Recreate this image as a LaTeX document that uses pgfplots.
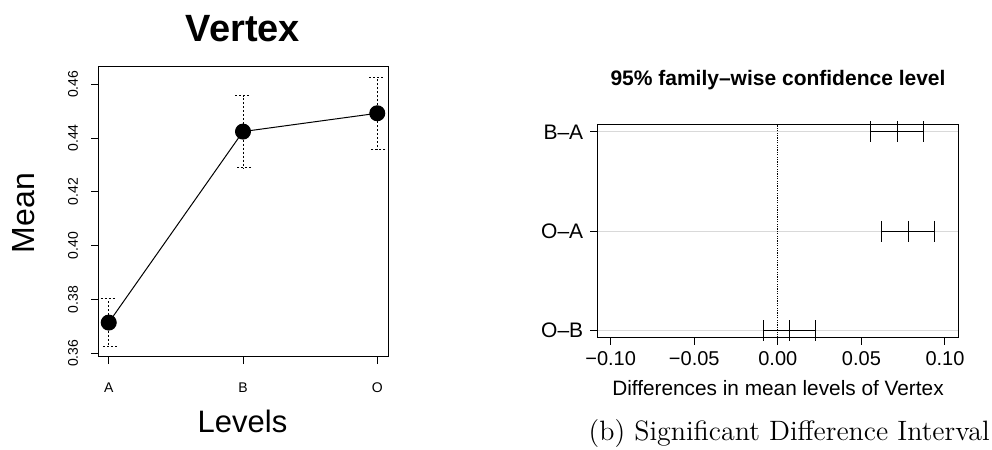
\documentclass[border=0pt]{standalone}
\usepackage{fontspec}
\usepackage{pgfplots}
\pgfplotsset{compat=1.18}
\newfontfamily\arial{Liberation Sans}
\newcommand{\fs}[1]{\fontsize{#1}{#1}\selectfont}
\begin{document}
\begin{tikzpicture}
\path[use as bounding box] (0,0) rectangle (496pt,225pt);
% ---------------- left panel ----------------
\begin{axis}[
  at={(49pt,46.5pt)}, anchor=south west,
  scale only axis, width=145pt, height=145pt,
  xmin=0.92, xmax=3.08, ymin=0.3586, ymax=0.4664,
  xtick={1,2,3}, xticklabels={A,B,O},
  ytick={0.36,0.38,0.40,0.42,0.44,0.46},
  yticklabels={0.36,0.38,0.40,0.42,0.44,0.46},
  tick pos=left, tick align=outside, major tick length=3.5pt,
  tick style={black, line width=0.5pt},
  axis line style={black, line width=0.5pt},
  tick label style={font=\arial\fs{7}},
  yticklabel style={rotate=90, anchor=south},
  xticklabel shift=6pt, yticklabel shift=3pt,
  /pgf/number format/assume math mode=true,
]
\addplot[black, line width=0.5pt, mark=*, mark size=3.75pt,
  mark options={solid, fill=black},
  error bars/.cd, y dir=both, y explicit,
  error bar style={black, line width=0.5pt, dash pattern=on 1pt off 1pt},
  error mark options={black, line width=0.5pt, rotate=90, mark size=4pt, dash pattern=on 1pt off 1pt}]
coordinates {
  (1,0.3714) +- (0,0.0088)
  (2,0.4424) +- (0,0.0134)
  (3,0.4492) +- (0,0.0134)
};
\end{axis}
\node[font=\arial\bfseries\fs{19}, anchor=base] at (121.5pt,204.2pt) {Vertex};
\node[font=\arial\fs{16}, anchor=base, rotate=90] at (17.5pt,118.5pt) {Mean};
\node[font=\arial\fs{15.5}, anchor=base] at (121.25pt,8.9pt) {Levels};
% ---------------- right panel ----------------
\begin{axis}[
  at={(298.65pt,56.15pt)}, anchor=south west,
  scale only axis, width=180.7pt, height=106.7pt,
  xmin=-0.108, xmax=0.1082, ymin=0.93, ymax=3.077,
  xtick={-0.1,-0.05,0,0.05,0.1},
  xticklabels={−0.10,−0.05,0.00,0.05,0.10},
  ytick={1,2,3}, yticklabels={O–B,O–A,B–A},
  tick pos=left, tick align=outside, major tick length=3.5pt,
  tick style={black, line width=0.5pt},
  axis line style={black, line width=0.5pt},
  xticklabel style={font=\arial\fs{10}},
  yticklabel style={font=\arial\fs{10.5}},
  ymajorgrids, grid style={gray!30, line width=0.5pt},
  clip mode=individual,
  /pgf/number format/assume math mode=true,
]
\addplot[black, line width=0.4pt, dash pattern=on 0.6pt off 0.6pt] coordinates {(0,0.93) (0,3.077)};
% B-A
\addplot[black, line width=0.5pt] coordinates {(0.0557,3) (0.0870,3)};
\addplot[black, only marks, mark=|, mark size=5.25pt, mark options={line width=0.5pt}] coordinates {(0.0557,3) (0.0713,3) (0.0870,3)};
% O-A
\addplot[black, line width=0.5pt] coordinates {(0.0621,2) (0.0940,2)};
\addplot[black, only marks, mark=|, mark size=5.25pt, mark options={line width=0.5pt}] coordinates {(0.0621,2) (0.0780,2) (0.0940,2)};
% O-B
\addplot[black, line width=0.5pt] coordinates {(-0.0085,1) (0.0224,1)};
\addplot[black, only marks, mark=|, mark size=5.25pt, mark options={line width=0.5pt}] coordinates {(-0.0085,1) (0.0069,1) (0.0224,1)};
\end{axis}
\node[font=\arial\bfseries\fs{10.5}, anchor=base] at (389pt,182pt) {95\% family–wise confidence level};
\node[font=\arial\fs{10.4}, anchor=base] at (389pt,27pt) {Differences in mean levels of Vertex};
\node[font=\fs{14}, anchor=base east, inner sep=0pt] at (495pt,4.75pt) {(b) Significant Difference Interval};
\end{tikzpicture}
\end{document}
